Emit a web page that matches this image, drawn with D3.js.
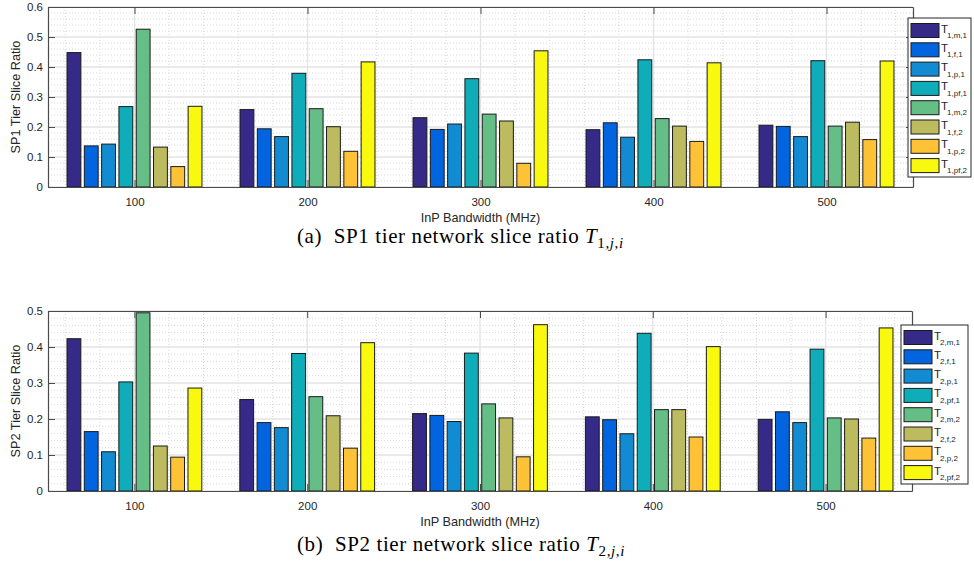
<!DOCTYPE html>
<html>
<head>
<meta charset="utf-8">
<script src="https://cdn.jsdelivr.net/npm/d3@7"></script>
<style>
  body { margin: 0; background: #fff; }
  text { font-family: "Liberation Sans", Arial, sans-serif; fill: #262626; }
  .caption { font-family: "Liberation Serif", "Times New Roman", serif; fill: #000; }
</style>
</head>
<body>
<div id="chart"></div>
<script>
// bandwidth groups on the x axis
var bandwidths = [100, 200, 300, 400, 500];

// legend subscripts, one per series (j,i)
var seriesSub = ["m,1", "f,1", "p,1", "pf,1", "m,2", "f,2", "p,2", "pf,2"];
var seriesColors = ["#352a87", "#0364e0", "#128bd3", "#0fadb9", "#64be86", "#bdbb60", "#fec236", "#f8f90f"];

// SP1 tier slice ratio, one row per series, one column per bandwidth
var sp1_m1  = [0.448, 0.258, 0.231, 0.191, 0.206];
var sp1_f1  = [0.137, 0.194, 0.192, 0.214, 0.202];
var sp1_p1  = [0.143, 0.168, 0.210, 0.166, 0.168];
var sp1_pf1 = [0.268, 0.379, 0.361, 0.424, 0.421];
var sp1_m2  = [0.526, 0.261, 0.243, 0.228, 0.203];
var sp1_f2  = [0.133, 0.201, 0.220, 0.203, 0.216];
var sp1_p2  = [0.068, 0.119, 0.079, 0.152, 0.158];
var sp1_pf2 = [0.269, 0.417, 0.454, 0.414, 0.420];

// SP2 tier slice ratio
var sp2_m1  = [0.423, 0.254, 0.215, 0.206, 0.199];
var sp2_f1  = [0.165, 0.190, 0.210, 0.198, 0.220];
var sp2_p1  = [0.109, 0.176, 0.193, 0.159, 0.190];
var sp2_pf1 = [0.303, 0.382, 0.383, 0.438, 0.394];
var sp2_m2  = [0.495, 0.262, 0.242, 0.226, 0.203];
var sp2_f2  = [0.125, 0.209, 0.203, 0.226, 0.200];
var sp2_p2  = [0.094, 0.119, 0.095, 0.150, 0.147];
var sp2_pf2 = [0.286, 0.412, 0.462, 0.401, 0.453];

var sp1Ticks = [0, 0.1, 0.2, 0.3, 0.4, 0.5, 0.6];
var sp2Ticks = [0, 0.1, 0.2, 0.3, 0.4, 0.5];

var svgWidth = 974;
var svgHeight = 576;

var svg = d3.select("#chart")
  .append("svg")
  .attr("width", svgWidth)
  .attr("height", svgHeight);

svg.append("rect").attr("width", svgWidth).attr("height", svgHeight).attr("fill", "#fff");

function drawPanel(p) {
  var x = d3.scaleLinear().domain([50, 550]).range([p.left, p.right]);
  var y = d3.scaleLinear().domain([0, p.yMax]).range([p.bottom, p.top]);
  var g = svg.append("g");

  // grid: minor dotted first, then major solid
  var minorX = d3.range(60, 550, 20).filter(function(d) { return d % 100 !== 0; });
  var minorY = d3.range(0.02, p.yMax, 0.02).filter(function(d) { return Math.abs(d * 10 - Math.round(d * 10)) > 1e-6; });

  g.selectAll(".minx").data(minorX).enter().append("line")
    .attr("x1", function(d) { return x(d); }).attr("x2", function(d) { return x(d); })
    .attr("y1", p.top).attr("y2", p.bottom)
    .attr("stroke", "#d8d8d8").attr("stroke-dasharray", "1,2");
  g.selectAll(".miny").data(minorY).enter().append("line")
    .attr("x1", p.left).attr("x2", p.right)
    .attr("y1", function(d) { return y(d); }).attr("y2", function(d) { return y(d); })
    .attr("stroke", "#d8d8d8").attr("stroke-dasharray", "1,2");
  g.selectAll(".majx").data(bandwidths).enter().append("line")
    .attr("x1", function(d) { return x(d); }).attr("x2", function(d) { return x(d); })
    .attr("y1", p.top).attr("y2", p.bottom)
    .attr("stroke", "#e3e3e3").attr("stroke-width", 1.3);
  g.selectAll(".majy").data(p.ticks).enter().append("line")
    .attr("x1", p.left).attr("x2", p.right)
    .attr("y1", function(d) { return y(d); }).attr("y2", function(d) { return y(d); })
    .attr("stroke", "#e3e3e3").attr("stroke-width", 1.3);

  // bars: 8 series within each bandwidth group
  var halfGroup = (x(180) - x(100)) / 2;
  var inner = d3.scaleBand()
    .domain(d3.range(p.series.length))
    .range([-halfGroup, halfGroup])
    .paddingInner(0.2)
    .paddingOuter(0.1);

  p.series.forEach(function(vals, s) {
    g.selectAll(".bar" + s).data(vals).enter().append("rect")
      .attr("x", function(d, i) { return x(bandwidths[i]) + inner(s); })
      .attr("width", inner.bandwidth())
      .attr("y", function(d) { return y(d); })
      .attr("height", function(d) { return y(0) - y(d); })
      .attr("fill", seriesColors[s])
      .attr("stroke", "#1a1a1a")
      .attr("stroke-width", 1);
  });

  // axes (box with inward ticks)
  var fmt = function(d) { return d === 0 ? "0" : d3.format(".1f")(d); };
  var axB = g.append("g").attr("transform", "translate(0," + p.bottom + ")")
    .call(d3.axisBottom(x).tickValues(bandwidths).tickSizeInner(-7).tickSizeOuter(0).tickPadding(11));
  var axT = g.append("g").attr("transform", "translate(0," + p.top + ")")
    .call(d3.axisTop(x).tickValues(bandwidths).tickSizeInner(-7).tickSizeOuter(0).tickFormat(""));
  var axL = g.append("g").attr("transform", "translate(" + p.left + ",0)")
    .call(d3.axisLeft(y).tickValues(p.ticks).tickSizeInner(-7).tickSizeOuter(0).tickPadding(5).tickFormat(fmt));
  var axR = g.append("g").attr("transform", "translate(" + p.right + ",0)")
    .call(d3.axisRight(y).tickValues(p.ticks).tickSizeInner(-7).tickSizeOuter(0).tickFormat(""));

  [axB, axT, axL, axR].forEach(function(a) {
    a.select(".domain").attr("stroke", "#4a4a4a").attr("stroke-width", 1.2);
    a.selectAll(".tick line").attr("stroke", "#4a4a4a");
    a.selectAll(".tick text").attr("font-size", "11.5px").attr("fill", "#262626")
      .attr("font-family", "Liberation Sans, Arial, sans-serif");
  });

  // axis labels
  g.append("text")
    .attr("x", (p.left + p.right) / 2)
    .attr("y", p.bottom + 35)
    .attr("text-anchor", "middle")
    .attr("font-size", "12.7px")
    .text("InP Bandwidth (MHz)");

  g.append("text")
    .attr("transform", "translate(19.5," + ((p.top + p.bottom) / 2) + ") rotate(-90)")
    .attr("text-anchor", "middle")
    .attr("font-size", "12.7px")
    .text(p.ylabel);

  // legend
  var lg = g.append("g");
  lg.append("rect")
    .attr("x", p.legX).attr("y", p.legY)
    .attr("width", p.legW).attr("height", p.legH)
    .attr("fill", "#fff").attr("stroke", "#262626").attr("stroke-width", 1);
  seriesSub.forEach(function(sub, s) {
    var cy = p.legY + 12.5 + s * 19.3;
    lg.append("rect")
      .attr("x", p.legX + 3).attr("y", cy - 7)
      .attr("width", 28).attr("height", 14)
      .attr("fill", seriesColors[s]).attr("stroke", "#1a1a1a").attr("stroke-width", 1);
    var t = lg.append("text")
      .attr("x", p.legX + 33).attr("y", cy + 2)
      .attr("font-size", "11.5px").attr("fill", "#000")
      .text("T");
    t.append("tspan")
      .attr("dx", -1).attr("dy", 5.5)
      .attr("font-size", "8px")
      .text(p.sp + "," + sub);
  });

  // caption below the panel
  var cap = svg.append("text")
    .attr("class", "caption")
    .attr("x", p.capX).attr("y", p.capY)
    .attr("font-size", "21px")
    .attr("letter-spacing", "0.6px");
  cap.append("tspan").text(p.capLetter + "\u00a0\u00a0SP" + p.sp + " tier network slice ratio ");
  cap.append("tspan").attr("font-style", "italic").text("T");
  cap.append("tspan").attr("font-size", "15px").attr("dy", 5).text(p.sp + ",");
  cap.append("tspan").attr("font-size", "15px").attr("font-style", "italic").text("j");
  cap.append("tspan").attr("font-size", "15px").text(",");
  cap.append("tspan").attr("font-size", "15px").attr("font-style", "italic").text("i");
}

drawPanel({
  left: 48, right: 913, top: 7, bottom: 187, yMax: 0.6, ticks: sp1Ticks,
  series: [sp1_m1, sp1_f1, sp1_p1, sp1_pf1, sp1_m2, sp1_f2, sp1_p2, sp1_pf2],
  sp: 1, ylabel: "SP1 Tier Slice Ratio",
  legX: 908, legY: 18, legW: 63, legH: 159,
  capLetter: "(a)", capX: 297, capY: 243
});

drawPanel({
  left: 48, right: 912, top: 311, bottom: 491, yMax: 0.5, ticks: sp2Ticks,
  series: [sp2_m1, sp2_f1, sp2_p1, sp2_pf1, sp2_m2, sp2_f2, sp2_p2, sp2_pf2],
  sp: 2, ylabel: "SP2 Tier Slice Ratio",
  legX: 901, legY: 325, legW: 67, legH: 159,
  capLetter: "(b)", capX: 297, capY: 551
});
</script>
</body>
</html>
